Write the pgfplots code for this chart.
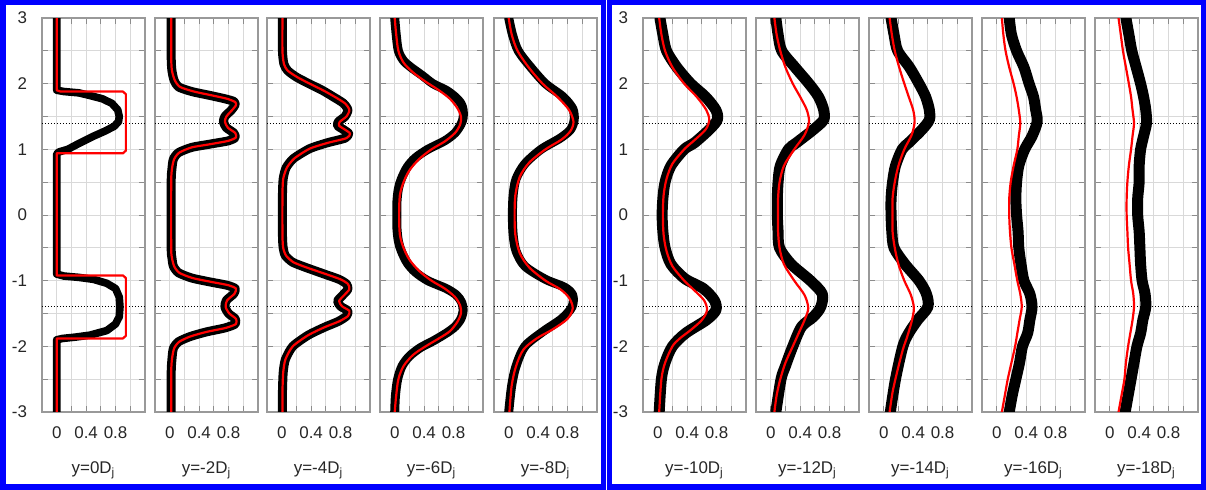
\documentclass[border=0pt]{standalone}
\usepackage{pgfplots}
\pgfplotsset{compat=1.18}
\usepackage{fontspec}
\setmainfont{Liberation Sans}
\pgfplotsset{
 panel/.style={
  scale only axis, width=51.5bp, height=197bp,
  xmin=-0.2,xmax=1.2,ymin=-3,ymax=3,
  xtick={0,0.2,0.4,0.6,0.8,1.0},
  xticklabels={0,,0.4,,0.8,},
  ytick={-3,-2.5,-2,-1.5,-1,-0.5,0,0.5,1,1.5,2,2.5,3},
  yticklabels={,,,,,,,,,,,,},
  grid=major, major grid style={draw=gray!30, line width=0.4bp},
  axis line style={draw=gray!80, line width=0.6bp},
  tick style={draw=gray!90, line width=0.5bp}, major tick length=3bp,
  tick align=inside,
  ticklabel style={font=\fontsize{8.5}{10}\selectfont, text=black!85},
  xticklabel style={yshift=-4bp},
  xlabel style={at={(axis description cs:0.5,0)}, anchor=center, yshift=-29bp, font=\fontsize{8.5}{10}\selectfont, text=black!85},
 },
 firstpanel/.style={yticklabels={-3,,-2,,-1,,0,,1,,2,,3}, yticklabel style={xshift=-4bp}},
 blk/.style={black, line width=4.5bp, line join=round, line cap=round},
 blkw/.style={black, line width=5.5bp, line join=round, line cap=round},
 rd/.style={red, line width=1.1bp, line join=round},
}
\newcommand{\dotlines}{%
 \addplot[black, densely dotted, line width=0.5bp] coordinates {(-0.2,1.4) (1.2,1.4)};
 \addplot[black, densely dotted, line width=0.5bp] coordinates {(-0.2,-1.4) (1.2,-1.4)};
}
\begin{document}
\begin{tikzpicture}
\useasboundingbox (0,0) rectangle (603bp,245bp);
% ---------- panel 1 ----------
\begin{axis}[panel, firstpanel, at={(21bp,39bp)}, anchor=south west, xlabel={y=0D\textsubscript{j}}]
\dotlines
\addplot[blk, line width=3.8bp] coordinates {(0,3) (0,1.9) (0.1,1.88) (0.3,1.86) (0.45,1.82) (0.62,1.77) (0.75,1.7) (0.83,1.6) (0.85,1.5) (0.84,1.42) (0.78,1.35) (0.66,1.28) (0.5,1.2) (0.32,1.1) (0.15,1.0) (0.03,0.96) (0,0.93) (0,-0.9) (0.1,-0.93) (0.3,-0.95) (0.5,-0.98) (0.68,-1.04) (0.8,-1.12) (0.85,-1.25) (0.86,-1.4) (0.85,-1.55) (0.8,-1.66) (0.68,-1.76) (0.45,-1.83) (0.25,-1.86) (0.08,-1.88) (0,-1.9) (0,-3)};
\addplot[rd] coordinates {(0,3) (0,1.9) (0.05,1.88) (0.9,1.88) (0.94,1.84) (0.94,0.98) (0.9,0.94) (0,0.94) (0,-0.92) (0.9,-0.92) (0.94,-0.96) (0.94,-1.84) (0.9,-1.88) (0,-1.88) (0,-3)};
\end{axis}
% ---------- panel 2 ----------
\begin{axis}[panel, at={(77.5bp,39bp)}, anchor=south west, xlabel={y=-2D\textsubscript{j}}]
\dotlines
\addplot[blk, smooth, tension=0.4] coordinates {(0.02,3) (0.02,2.4) (0.03,2.2) (0.06,2.05) (0.12,1.95) (0.3,1.88) (0.55,1.82) (0.75,1.77) (0.87,1.73) (0.89,1.68) (0.84,1.6) (0.75,1.5) (0.73,1.42) (0.77,1.33) (0.87,1.25) (0.89,1.18) (0.8,1.13) (0.55,1.08) (0.3,1.03) (0.12,0.95) (0.05,0.85) (0.03,0.7) (0.02,0.5) (0.02,-0.5) (0.03,-0.65) (0.05,-0.78) (0.12,-0.88) (0.3,-0.96) (0.55,-1.02) (0.78,-1.07) (0.89,-1.12) (0.87,-1.2) (0.77,-1.3) (0.75,-1.4) (0.8,-1.5) (0.89,-1.58) (0.89,-1.66) (0.75,-1.72) (0.5,-1.78) (0.28,-1.85) (0.12,-1.93) (0.05,-2.03) (0.03,-2.2) (0.02,-2.4) (0.02,-3)};
\addplot[rd, smooth, tension=0.4] coordinates {(0.02,3) (0.02,2.4) (0.03,2.2) (0.07,2.05) (0.14,1.95) (0.33,1.88) (0.58,1.82) (0.78,1.77) (0.89,1.72) (0.9,1.67) (0.85,1.6) (0.77,1.5) (0.75,1.42) (0.79,1.33) (0.89,1.25) (0.9,1.18) (0.8,1.13) (0.56,1.08) (0.3,1.03) (0.13,0.95) (0.06,0.85) (0.03,0.7) (0.02,0.5) (0.02,-0.5) (0.03,-0.65) (0.06,-0.78) (0.13,-0.88) (0.31,-0.96) (0.57,-1.02) (0.8,-1.07) (0.9,-1.12) (0.88,-1.2) (0.78,-1.3) (0.76,-1.4) (0.81,-1.5) (0.9,-1.58) (0.9,-1.66) (0.76,-1.72) (0.5,-1.78) (0.28,-1.85) (0.13,-1.93) (0.06,-2.03) (0.03,-2.2) (0.02,-2.4) (0.02,-3)};
\end{axis}
% ---------- panel 3 ----------
\begin{axis}[panel, at={(133.5bp,39bp)}, anchor=south west, xlabel={y=-4D\textsubscript{j}}]
\dotlines
\addplot[blk, smooth, tension=0.4] coordinates {(0.01,3) (0.01,2.5) (0.03,2.3) (0.08,2.2) (0.2,2.1) (0.37,2.0) (0.55,1.9) (0.7,1.8) (0.84,1.7) (0.9,1.6) (0.86,1.5) (0.77,1.42) (0.76,1.36) (0.84,1.3) (0.91,1.24) (0.86,1.17) (0.62,1.1) (0.38,1.01) (0.16,0.86) (0.06,0.72) (0.02,0.55) (0.01,0.3) (0.01,-0.3) (0.02,-0.5) (0.05,-0.62) (0.15,-0.72) (0.33,-0.8) (0.58,-0.9) (0.78,-0.98) (0.88,-1.05) (0.9,-1.13) (0.83,-1.22) (0.76,-1.31) (0.8,-1.39) (0.9,-1.46) (0.88,-1.54) (0.77,-1.62) (0.58,-1.71) (0.36,-1.83) (0.15,-2.0) (0.05,-2.2) (0.02,-2.4) (0.01,-2.7) (0.01,-3)};
\addplot[rd, smooth, tension=0.4] coordinates {(0.01,3) (0.01,2.5) (0.03,2.3) (0.08,2.2) (0.21,2.1) (0.38,2.0) (0.56,1.9) (0.72,1.8) (0.86,1.7) (0.92,1.6) (0.88,1.5) (0.79,1.42) (0.78,1.36) (0.86,1.3) (0.93,1.24) (0.88,1.17) (0.63,1.1) (0.38,1.01) (0.17,0.86) (0.07,0.72) (0.02,0.55) (0.01,0.3) (0.01,-0.3) (0.02,-0.5) (0.06,-0.62) (0.16,-0.72) (0.34,-0.8) (0.6,-0.9) (0.8,-0.98) (0.9,-1.05) (0.92,-1.13) (0.85,-1.22) (0.78,-1.31) (0.82,-1.39) (0.92,-1.46) (0.9,-1.54) (0.78,-1.62) (0.58,-1.71) (0.36,-1.83) (0.15,-2.0) (0.05,-2.2) (0.02,-2.4) (0.01,-2.7) (0.01,-3)};
\end{axis}
% ---------- panel 4 ----------
\begin{axis}[panel, at={(190bp,39bp)}, anchor=south west, xlabel={y=-6D\textsubscript{j}}]
\dotlines
\addplot[blk, smooth, tension=0.5] coordinates {(0.0,3) (0.02,2.75) (0.05,2.5) (0.12,2.35) (0.22,2.25) (0.38,2.12) (0.52,2.0) (0.7,1.9) (0.82,1.8) (0.9,1.7) (0.93,1.6) (0.93,1.48) (0.9,1.38) (0.82,1.25) (0.68,1.13) (0.45,1.0) (0.28,0.87) (0.17,0.73) (0.09,0.55) (0.05,0.4) (0.03,0.2) (0.03,0) (0.03,-0.2) (0.05,-0.4) (0.09,-0.55) (0.17,-0.73) (0.28,-0.87) (0.45,-1.0) (0.7,-1.12) (0.84,-1.22) (0.91,-1.33) (0.93,-1.45) (0.9,-1.58) (0.82,-1.7) (0.7,-1.8) (0.52,-1.92) (0.35,-2.02) (0.2,-2.15) (0.1,-2.3) (0.04,-2.5) (0.01,-2.75) (0,-3)};
\addplot[rd, smooth, tension=0.5] coordinates {(0,3) (0.02,2.75) (0.05,2.5) (0.12,2.32) (0.25,2.17) (0.42,2.03) (0.6,1.9) (0.75,1.77) (0.85,1.63) (0.9,1.5) (0.89,1.38) (0.82,1.25) (0.68,1.12) (0.5,1.0) (0.33,0.85) (0.2,0.68) (0.12,0.5) (0.07,0.3) (0.06,0) (0.07,-0.3) (0.12,-0.5) (0.2,-0.68) (0.33,-0.85) (0.5,-1.0) (0.68,-1.12) (0.82,-1.25) (0.89,-1.38) (0.9,-1.5) (0.85,-1.63) (0.75,-1.77) (0.6,-1.88) (0.42,-2.0) (0.25,-2.13) (0.12,-2.3) (0.05,-2.5) (0.02,-2.75) (0,-3)};
\end{axis}
% ---------- panel 5 ----------
\begin{axis}[panel, at={(247bp,39bp)}, anchor=south west, xlabel={y=-8D\textsubscript{j}}]
\dotlines
\addplot[blk, smooth, tension=0.5] coordinates {(0,3) (0.05,2.75) (0.13,2.5) (0.3,2.25) (0.5,2.0) (0.74,1.8) (0.87,1.62) (0.89,1.45) (0.84,1.3) (0.7,1.17) (0.44,1.0) (0.22,0.78) (0.1,0.55) (0.06,0.3) (0.05,0) (0.06,-0.3) (0.1,-0.55) (0.22,-0.78) (0.5,-0.98) (0.76,-1.1) (0.87,-1.22) (0.86,-1.4) (0.72,-1.58) (0.46,-1.78) (0.22,-2.0) (0.1,-2.3) (0.04,-2.6) (0.0,-3)};
\addplot[rd, smooth, tension=0.5] coordinates {(0,3) (0.04,2.75) (0.12,2.5) (0.27,2.25) (0.46,2.0) (0.66,1.8) (0.82,1.6) (0.88,1.42) (0.84,1.28) (0.72,1.15) (0.5,1.0) (0.28,0.8) (0.15,0.58) (0.09,0.3) (0.08,0) (0.09,-0.3) (0.15,-0.58) (0.28,-0.8) (0.5,-1.0) (0.7,-1.13) (0.82,-1.26) (0.87,-1.42) (0.8,-1.58) (0.6,-1.74) (0.38,-1.88) (0.2,-2.05) (0.1,-2.3) (0.04,-2.6) (0.01,-3)};
\end{axis}
% ---------- panel 6 ----------
\begin{axis}[panel, firstpanel, at={(321.5bp,39bp)}, anchor=south west, xlabel={y=-10D\textsubscript{j}}]
\dotlines
\addplot[blkw, smooth, tension=0.5] coordinates {(0.03,3) (0.07,2.75) (0.12,2.5) (0.26,2.25) (0.45,2.0) (0.65,1.8) (0.79,1.6) (0.81,1.45) (0.7,1.3) (0.5,1.1) (0.36,1.0) (0.18,0.75) (0.1,0.5) (0.07,0.25) (0.06,0) (0.07,-0.25) (0.1,-0.5) (0.18,-0.75) (0.37,-0.97) (0.62,-1.12) (0.77,-1.3) (0.79,-1.45) (0.66,-1.6) (0.38,-1.8) (0.2,-2.0) (0.1,-2.25) (0.05,-2.5) (0.02,-3)};
\addplot[rd, smooth, tension=0.5] coordinates {(0.02,3) (0.05,2.75) (0.1,2.5) (0.2,2.25) (0.36,2.0) (0.53,1.8) (0.66,1.6) (0.7,1.45) (0.65,1.3) (0.48,1.12) (0.36,1.0) (0.2,0.78) (0.12,0.55) (0.08,0.3) (0.07,0) (0.08,-0.3) (0.12,-0.55) (0.2,-0.78) (0.36,-1.0) (0.5,-1.15) (0.63,-1.3) (0.67,-1.45) (0.6,-1.6) (0.45,-1.75) (0.3,-1.88) (0.2,-2.0) (0.1,-2.25) (0.05,-2.5) (0.02,-3)};
\end{axis}
% ---------- panel 7 ----------
\begin{axis}[panel, at={(378bp,39bp)}, anchor=south west, xlabel={y=-12D\textsubscript{j}}]
\dotlines
\addplot[blkw, smooth, tension=0.5] coordinates {(0.07,3) (0.1,2.75) (0.15,2.5) (0.33,2.25) (0.52,2.0) (0.65,1.8) (0.72,1.6) (0.72,1.45) (0.58,1.3) (0.35,1.1) (0.24,1.0) (0.13,0.75) (0.1,0.5) (0.09,0.25) (0.09,0) (0.1,-0.25) (0.12,-0.5) (0.28,-0.75) (0.54,-1.0) (0.7,-1.2) (0.68,-1.4) (0.58,-1.55) (0.42,-1.7) (0.3,-2.0) (0.2,-2.3) (0.14,-2.5) (0.07,-3)};
\addplot[rd, smooth, tension=0.5] coordinates {(0.05,3) (0.08,2.75) (0.13,2.5) (0.2,2.25) (0.3,2.0) (0.4,1.8) (0.49,1.6) (0.52,1.42) (0.46,1.22) (0.32,1.0) (0.18,0.75) (0.12,0.5) (0.1,0.25) (0.1,0) (0.1,-0.25) (0.12,-0.5) (0.18,-0.75) (0.32,-1.0) (0.46,-1.22) (0.51,-1.42) (0.46,-1.6) (0.38,-1.8) (0.3,-2.0) (0.2,-2.25) (0.13,-2.5) (0.08,-2.75) (0.05,-3)};
\end{axis}
% ---------- panel 8 ----------
\begin{axis}[panel, at={(434.5bp,39bp)}, anchor=south west, xlabel={y=-14D\textsubscript{j}}]
\dotlines
\addplot[blkw, smooth, tension=0.5] coordinates {(0.1,3) (0.14,2.75) (0.19,2.5) (0.35,2.25) (0.48,2.0) (0.57,1.8) (0.62,1.6) (0.62,1.45) (0.52,1.3) (0.34,1.1) (0.25,1.0) (0.16,0.75) (0.12,0.5) (0.1,0.25) (0.1,0) (0.11,-0.25) (0.14,-0.5) (0.29,-0.75) (0.48,-1.0) (0.58,-1.2) (0.6,-1.4) (0.46,-1.6) (0.34,-1.8) (0.26,-2.0) (0.16,-2.5) (0.09,-3)};
\addplot[rd, smooth, tension=0.5] coordinates {(0.08,3) (0.11,2.75) (0.15,2.5) (0.21,2.25) (0.28,2.0) (0.34,1.8) (0.4,1.6) (0.42,1.42) (0.38,1.22) (0.28,1.0) (0.2,0.75) (0.15,0.5) (0.12,0.25) (0.12,0) (0.12,-0.25) (0.15,-0.5) (0.2,-0.75) (0.28,-1.0) (0.37,-1.22) (0.41,-1.42) (0.38,-1.62) (0.32,-1.85) (0.26,-2.05) (0.18,-2.4) (0.12,-2.7) (0.08,-3)};
\end{axis}
% ---------- panel 9 ----------
\begin{axis}[panel, at={(491bp,39bp)}, anchor=south west, xlabel={y=-16D\textsubscript{j}}]
\dotlines
\addplot[blkw, smooth, tension=0.5] coordinates {(0.17,3) (0.2,2.75) (0.27,2.5) (0.37,2.25) (0.44,2.0) (0.5,1.8) (0.53,1.6) (0.55,1.42) (0.48,1.2) (0.38,1.0) (0.3,0.75) (0.27,0.5) (0.26,0.25) (0.27,0) (0.29,-0.25) (0.3,-0.5) (0.33,-0.75) (0.37,-1.0) (0.45,-1.2) (0.48,-1.4) (0.45,-1.6) (0.42,-1.8) (0.35,-2.0) (0.31,-2.25) (0.26,-2.5) (0.21,-2.75) (0.17,-3)};
\addplot[rd, smooth, tension=0.5] coordinates {(0.07,3) (0.09,2.75) (0.12,2.5) (0.17,2.25) (0.23,2.0) (0.27,1.8) (0.3,1.6) (0.32,1.4) (0.3,1.2) (0.28,1.0) (0.23,0.75) (0.19,0.5) (0.17,0.25) (0.17,0) (0.18,-0.25) (0.2,-0.5) (0.24,-0.75) (0.28,-1.0) (0.32,-1.2) (0.34,-1.4) (0.31,-1.6) (0.28,-1.8) (0.25,-2.0) (0.2,-2.25) (0.15,-2.5) (0.11,-2.75) (0.07,-3)};
\end{axis}
% ---------- panel 10 ----------
\begin{axis}[panel, at={(547.5bp,39bp)}, anchor=south west, xlabel={y=-18D\textsubscript{j}}]
\dotlines
\addplot[blkw, smooth, tension=0.5] coordinates {(0.22,3) (0.26,2.75) (0.3,2.5) (0.36,2.25) (0.42,2.0) (0.46,1.8) (0.49,1.6) (0.5,1.4) (0.46,1.2) (0.42,1.0) (0.4,0.75) (0.4,0.5) (0.38,0.25) (0.38,0) (0.4,-0.25) (0.41,-0.5) (0.42,-0.75) (0.44,-1.0) (0.48,-1.2) (0.49,-1.4) (0.45,-1.6) (0.42,-1.8) (0.37,-2.0) (0.33,-2.25) (0.29,-2.5) (0.25,-2.75) (0.21,-3)};
\addplot[rd, smooth, tension=0.5] coordinates {(0.12,3) (0.15,2.75) (0.18,2.5) (0.22,2.25) (0.26,2.0) (0.29,1.8) (0.31,1.6) (0.33,1.4) (0.31,1.2) (0.29,1.0) (0.26,0.75) (0.24,0.5) (0.23,0.25) (0.23,0) (0.24,-0.25) (0.25,-0.5) (0.27,-0.75) (0.29,-1.0) (0.32,-1.2) (0.33,-1.4) (0.31,-1.6) (0.28,-1.8) (0.25,-2.0) (0.22,-2.25) (0.2,-2.5) (0.16,-2.75) (0.12,-3)};
\end{axis}
% ---------- frames ----------
\draw[blue, line width=2.5bp] (1.5bp,1.5bp) rectangle (301.5bp,243.5bp);
\draw[blue, line width=2.5bp] (304.5bp,1.5bp) rectangle (601.5bp,243.5bp);
\end{tikzpicture}
\end{document}
